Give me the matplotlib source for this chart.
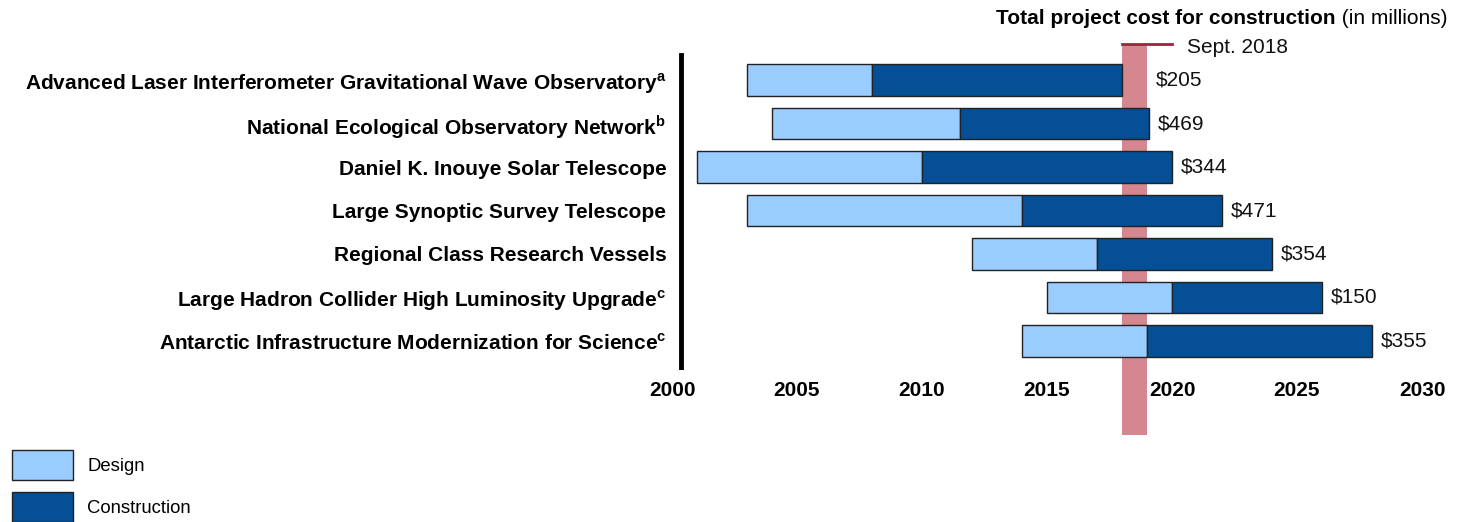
import matplotlib
matplotlib.use("Agg")
import matplotlib.pyplot as plt
from matplotlib.patches import Patch

plt.rcParams['font.family'] = ['Liberation Sans', 'DejaVu Sans']
plt.rcParams['mathtext.fontset'] = 'custom'
plt.rcParams['mathtext.bf'] = 'Liberation Sans:bold'
plt.rcParams['mathtext.rm'] = 'Liberation Sans'

projects = [
    "Advanced Laser Interferometer Gravitational Wave Observatory$^\\mathbf{a}$",
    "National Ecological Observatory Network$^\\mathbf{b}$",
    "Daniel K. Inouye Solar Telescope",
    "Large Synoptic Survey Telescope",
    "Regional Class Research Vessels",
    "Large Hadron Collider High Luminosity Upgrade$^\\mathbf{c}$",
    "Antarctic Infrastructure Modernization for Science$^\\mathbf{c}$",
]
design_start = [2003, 2004, 2001, 2003, 2012, 2015, 2014]
construction_start = [2008, 2011.5, 2010, 2014, 2017, 2020, 2019]
construction_end = [2018, 2019.1, 2020, 2022, 2024, 2026, 2028]
costs = ["$205", "$469", "$344", "$471", "$354", "$150", "$355"]
years = [2000, 2005, 2010, 2015, 2020, 2025, 2030]
current_start, current_end = 2018, 2019
current_label = "Sept. 2018"

light = '#99CCFF'
dark = '#044F95'
band = '#D4878F'
red = '#A3213A'

W, H = 1466, 522
fig = plt.figure(figsize=(W / 100, H / 100), dpi=100)
ax_left, ax_right = 672, 1422
ax_top, ax_bot = 44, 370
ax = fig.add_axes([ax_left / W, (H - ax_bot) / H, (ax_right - ax_left) / W, (ax_bot - ax_top) / H])

ys = list(range(len(projects)))
d_w = [c - s for s, c in zip(design_start, construction_start)]
c_w = [e - c for c, e in zip(construction_start, construction_end)]
ax.barh(ys, d_w, left=design_start, height=0.73, color=light, edgecolor='#222222', linewidth=1.0, zorder=3)
ax.barh(ys, c_w, left=construction_start, height=0.73, color=dark, edgecolor='#222222', linewidth=1.0, zorder=3)

ax.set_xlim(years[0], years[-1])
ax.set_ylim(6.667, -0.828)

# current date band
ax.axvspan(current_start, current_end, ymin=-0.2, ymax=1.0, color=band, clip_on=False, zorder=2, lw=0)
ax.plot([current_start, current_end + 1], [1.0, 1.0], color=red, lw=2,
        transform=ax.get_xaxis_transform(), clip_on=False, zorder=4)
ax.text(current_end + 1.6, 0.99, current_label, transform=ax.get_xaxis_transform(),
        ha='left', va='center', fontsize=15, color='#111111')

for y, e, c in zip(ys, construction_end, costs):
    ax.text(max(e, current_end) + 0.35, y, c.replace('$', '\\$'), ha='left', va='center',
            fontsize=15, color='#111111')

ax.axvline(years[0] + 0.35, ymin=0.0, ymax=0.965, color='black', lw=3.5)

ax.set_yticks(ys)
ax.set_yticklabels(projects, fontsize=15, fontweight='bold')
ax.set_xticks(years)
ax.set_xticklabels([str(y) for y in years], fontsize=15, fontweight='bold')
ax.tick_params(axis='both', length=0)
ax.tick_params(axis='x', pad=8)
ax.tick_params(axis='y', pad=4)
for s in ax.spines.values():
    s.set_visible(False)

# title
t1 = fig.text(1447 / W, 1 - 18 / H, " (in millions)", ha='right', va='center', fontsize=15)
ax.annotate("Total project cost for construction", xy=(0, 0), xycoords=t1,
            ha='right', va='bottom', fontsize=15, fontweight='bold', annotation_clip=False)

handles = [Patch(facecolor=light, edgecolor='#222222', label='Design'),
           Patch(facecolor=dark, edgecolor='#222222', label='Construction')]
fig.legend(handles=handles, loc='lower left', bbox_to_anchor=(0.008, 0.0), frameon=False,
           fontsize=13.3, handlelength=3.3, handleheight=2.15, labelspacing=0.62, handletextpad=0.8,
           borderaxespad=0.0, borderpad=0.0)

fig.savefig("out.png", dpi=100)
